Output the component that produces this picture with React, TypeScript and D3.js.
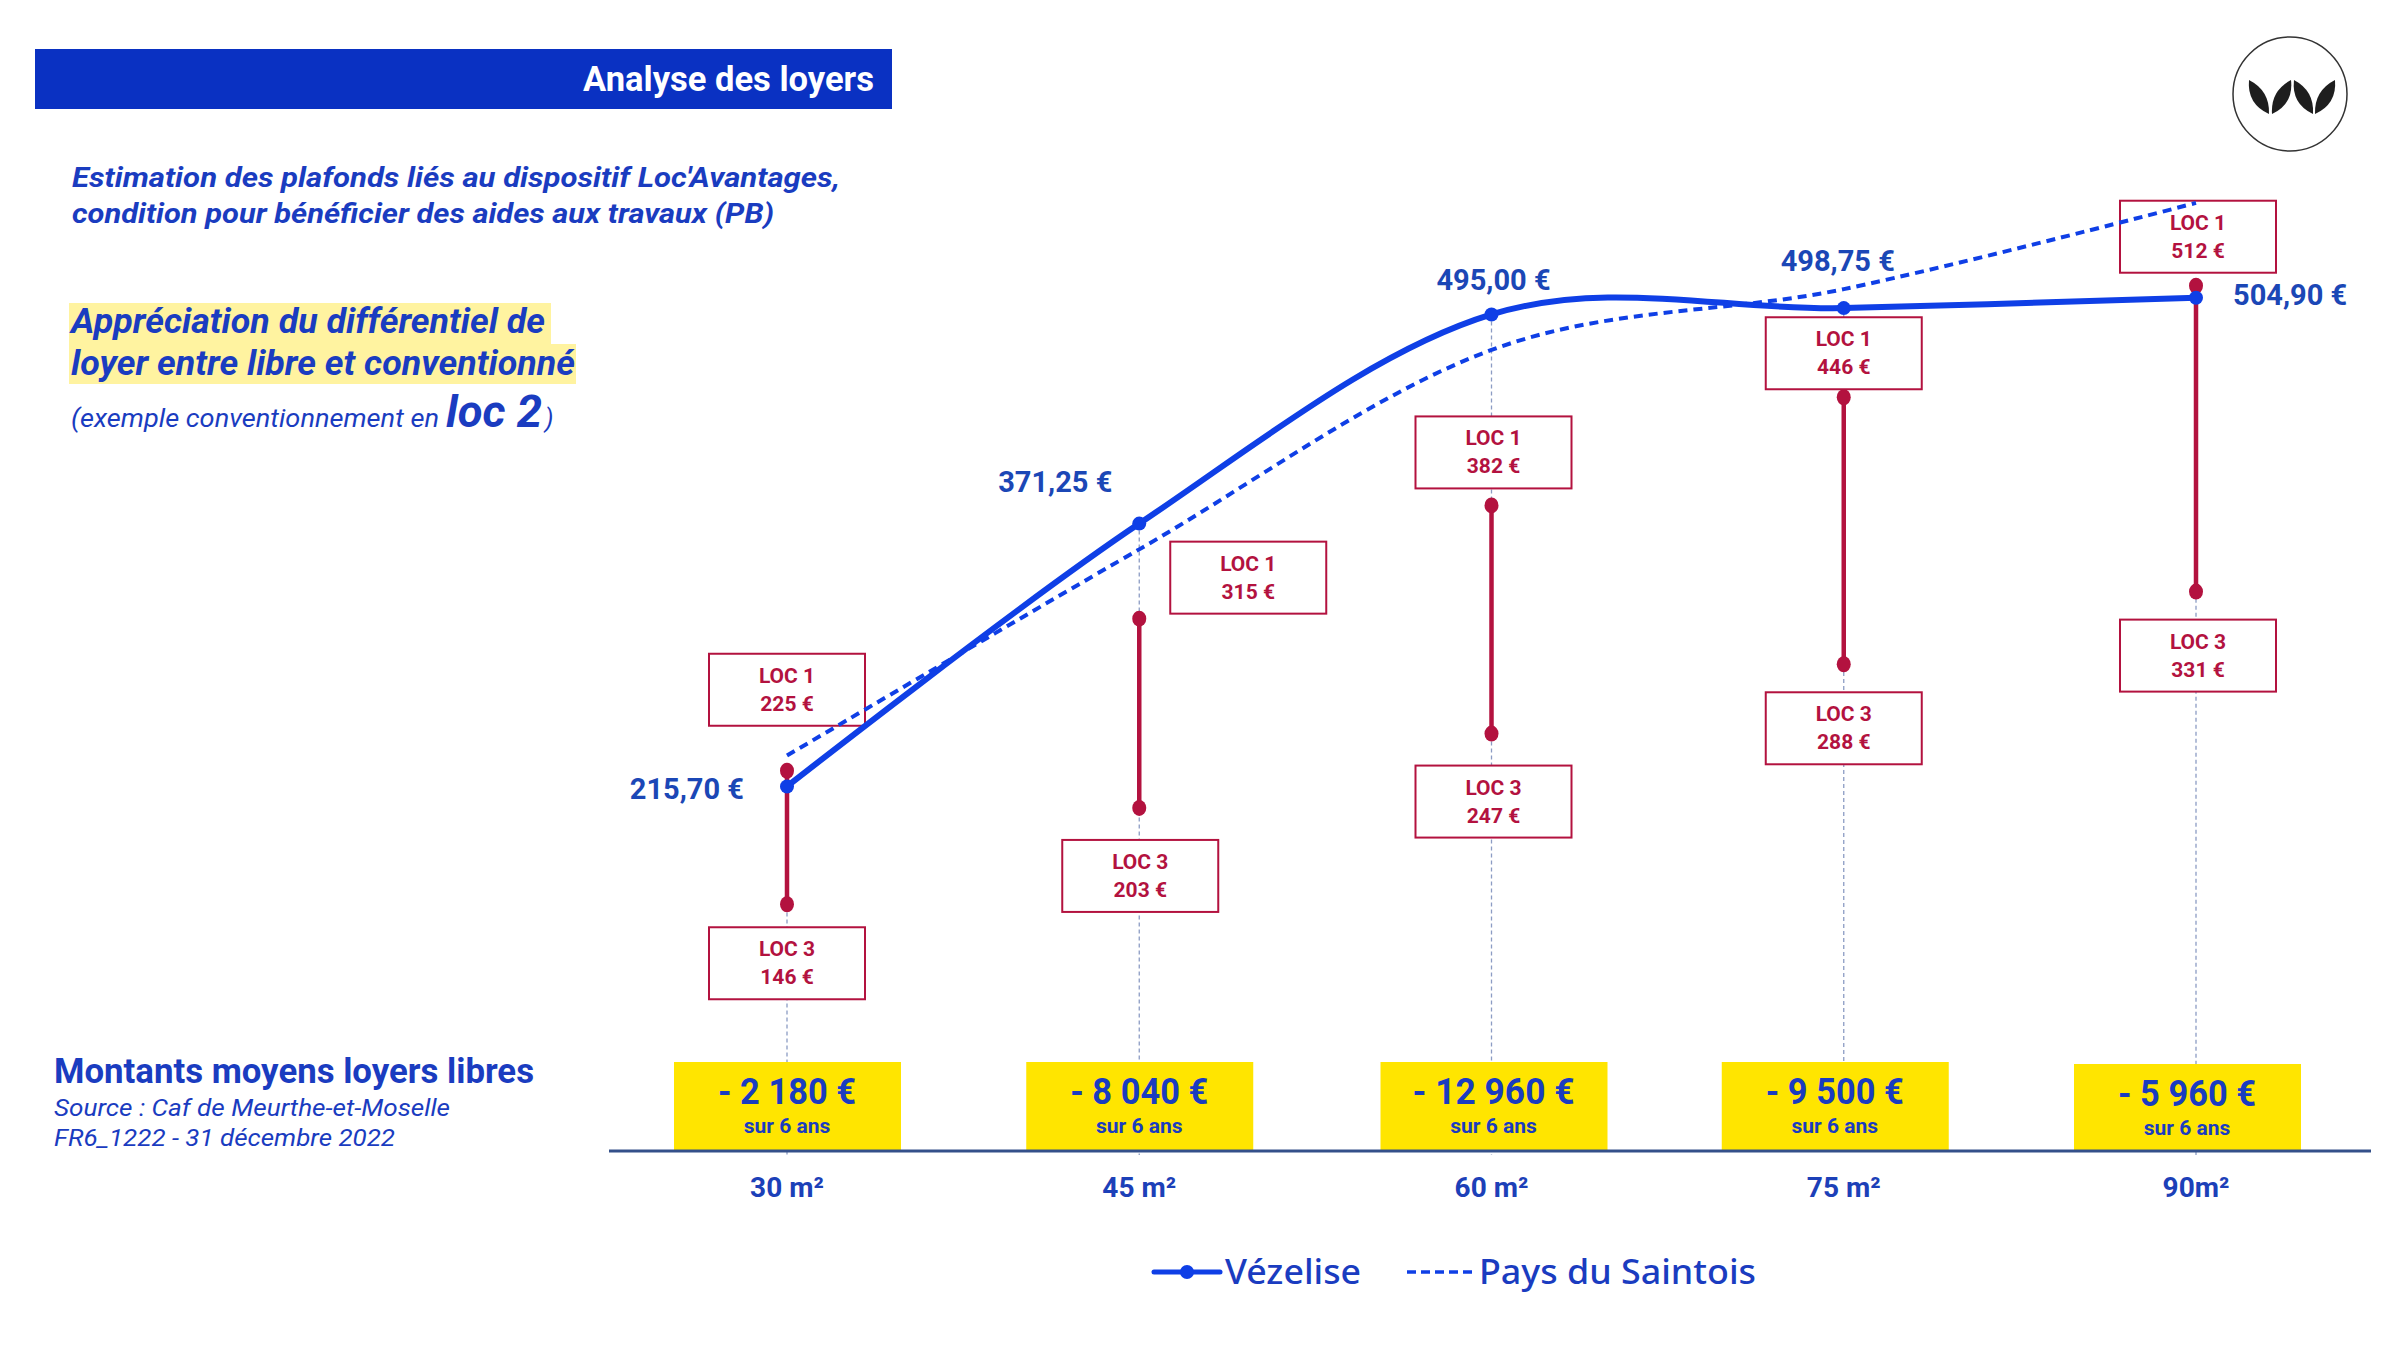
import React from "react";
import * as d3 from "d3";

// ---------- DATA ----------
const categories = ["30 m²", "45 m²", "60 m²", "75 m²", "90m²"];
const vezelise = [215.7, 371.25, 495.0, 498.75, 504.9];
const saintois = [234, 356, 474, 510, 561];
const loc1 = [225, 315, 382, 446, 512];
const loc3 = [146, 203, 247, 288, 331];
const differentiel = [-2180, -8040, -12960, -9500, -5960];
const seriesNames = ["Vézelise", "Pays du Saintois"];

// ---------- LAYOUT (annotation placement) ----------
const W = 2400;
const H = 1350;
const valueLabelPos = [
  { dx: -43, dy: 13, anchor: "end" },
  { dx: -84, dy: -32, anchor: "middle" },
  { dx: 2, dy: -24, anchor: "middle" },
  { dx: -6, dy: -37, anchor: "middle" },
  { dx: 37, dy: 7, anchor: "start" },
];
const loc1Box = [
  { dx: 0, gap: 45 },
  { dx: 109, gap: 5 },
  { dx: 2, gap: 17 },
  { dx: 0, gap: 8 },
  { dx: 2, gap: 13 },
];
const loc3Box = [
  { dx: 0, gap: 23 },
  { dx: 1, gap: 32 },
  { dx: 2, gap: 32 },
  { dx: 0, gap: 28 },
  { dx: 2, gap: 28 },
];
const diffBoxShift = [
  { dx: 0, dy: 0 },
  { dx: 0, dy: 0 },
  { dx: 2, dy: 0 },
  { dx: -9, dy: 0 },
  { dx: -9, dy: 2 },
];
const BOX_W = 156;
const BOX_H = 72;

const BLUE_LINE = "#0f3fe6";
const BLUE_TEXT = "#1a3cc0";
const BLUE_VAL = "#1b47b6";
const CRIMSON = "#b3123f";
const YELLOW = "#ffe500";

const fr = d3.formatLocale({
  decimal: ",",
  thousands: "\u00a0",
  grouping: [3],
  currency: ["", " €"],
});
const fmt2 = fr.format(",.2f");
const fmtInt = fr.format(",");

export default function App() {
  const x = d3.scalePoint<string>().domain(categories).range([787, 2196]);
  const y = d3.scaleLinear().domain([0, 600]).range([1151, 137]);

  const line = d3
    .line<number>()
    .x((_, i) => x(categories[i]) as number)
    .y((d) => y(d))
    .curve(d3.curveCardinal.tension(0));

  const font = "Roboto, 'Liberation Sans', sans-serif";

  const leaf = (x1: number, y1: number, x2: number, y2: number, flip: number) => {
    const mx = (x1 + x2) / 2;
    const my = (y1 + y2) / 2;
    const dxl = x2 - x1;
    const dyl = y2 - y1;
    const len = Math.hypot(dxl, dyl);
    const nx = (-dyl / len) * 14 * flip;
    const ny = (dxl / len) * 14 * flip;
    return `M${x1},${y1} Q${mx + nx},${my + ny} ${x2},${y2} Q${mx - nx * 0.9},${my - ny * 0.9} ${x1},${y1}Z`;
  };

  return (
    <svg
      width={W}
      height={H}
      viewBox={`0 0 ${W} ${H}`}
      style={{ position: "absolute", left: 0, top: 0, background: "#fff" }}
      fontFamily={font}
    >
      <rect x={0} y={0} width={W} height={H} fill="#fff" />

      {/* Title bar */}
      <rect x={35} y={49} width={857} height={60} fill="#0a31c2" />
      <text x={874} y={91} textAnchor="end" fill="#fff" fontSize={35} fontWeight={700} textLength={291} lengthAdjust="spacingAndGlyphs">
        Analyse des loyers
      </text>

      {/* Logo */}
      <circle cx={2290} cy={94} r={57} fill="#fff" stroke="#333" strokeWidth={1.5} />
      <path d={leaf(2249, 80, 2269, 114, 1)} fill="#1e1e1e" />
      <path d={leaf(2291, 80, 2272, 114, -1)} fill="#1e1e1e" />
      <path d={leaf(2294, 80, 2313, 114, 1)} fill="#1e1e1e" />
      <path d={leaf(2335, 80, 2315, 114, -1)} fill="#1e1e1e" />

      {/* Subtitle */}
      <text x={72} y={187} fill={BLUE_TEXT} fontSize={28} fontWeight={700} fontStyle="italic" textLength={768} lengthAdjust="spacingAndGlyphs">
        Estimation des plafonds liés au dispositif Loc'Avantages,
      </text>
      <text x={72} y={223} fill={BLUE_TEXT} fontSize={28} fontWeight={700} fontStyle="italic" textLength={702} lengthAdjust="spacingAndGlyphs">
        condition pour bénéficier des aides aux travaux (PB)
      </text>

      {/* Highlighted heading */}
      <rect x={69} y={303} width={482} height={41} fill="#fff3a0" />
      <rect x={69} y={344} width={507} height={40} fill="#fff3a0" />
      <text x={71} y={333} fill={BLUE_TEXT} fontSize={35} fontWeight={700} fontStyle="italic" textLength={474} lengthAdjust="spacingAndGlyphs">
        Appréciation du différentiel de
      </text>
      <text x={71} y={375} fill={BLUE_TEXT} fontSize={35} fontWeight={700} fontStyle="italic" textLength={504} lengthAdjust="spacingAndGlyphs">
        loyer entre libre et conventionné
      </text>
      <text x={71} y={427} fill={BLUE_TEXT} fontSize={25} fontStyle="italic" textLength={368} lengthAdjust="spacingAndGlyphs">
        (exemple conventionnement en
      </text>
      <text x={446} y={427} fill={BLUE_TEXT} fontSize={45} fontWeight={700} fontStyle="italic" textLength={96} lengthAdjust="spacingAndGlyphs">
        loc 2
      </text>
      <text x={545} y={427} fill={BLUE_TEXT} fontSize={25} fontStyle="italic">
        )
      </text>

      {/* Bottom-left source */}
      <text x={54} y={1083} fill={BLUE_TEXT} fontSize={35} fontWeight={700} textLength={480} lengthAdjust="spacingAndGlyphs">
        Montants moyens loyers libres
      </text>
      <text x={54} y={1116} fill={BLUE_TEXT} fontSize={24} fontStyle="italic" textLength={396} lengthAdjust="spacingAndGlyphs">
        Source : Caf de Meurthe-et-Moselle
      </text>
      <text x={54} y={1146} fill={BLUE_TEXT} fontSize={24} fontStyle="italic" textLength={341} lengthAdjust="spacingAndGlyphs">
        FR6_1222 - 31 décembre 2022
      </text>

      {/* Drop lines */}
      {vezelise.map((v, i) => (
        <line
          key={"drop" + i}
          x1={x(categories[i])}
          x2={x(categories[i])}
          y1={y(v)}
          y2={y(0) + 4}
          stroke="#8c9cc4"
          strokeWidth={1.3}
          strokeDasharray="4 3"
        />
      ))}

      {/* Yellow differential boxes */}
      {differentiel.map((d, i) => {
        const cx = (x(categories[i]) as number) + diffBoxShift[i].dx;
        const by = y(0) + diffBoxShift[i].dy;
        return (
          <g key={"diff" + i}>
            <rect x={cx - 113} y={by - 89} width={227} height={88} fill={YELLOW} />
            <text x={cx} y={by - 47} textAnchor="middle" fill={BLUE_TEXT} fontSize={36} fontWeight={700} textLength={d <= -10000 ? 162 : 138} lengthAdjust="spacingAndGlyphs">
              {(d < 0 ? "- " : "") + fmtInt(Math.abs(d)) + " €"}
            </text>
            <text x={cx} y={by - 18} textAnchor="middle" fill={BLUE_TEXT} fontSize={21} fontWeight={700}>
              sur 6 ans
            </text>
          </g>
        );
      })}

      {/* Axis */}
      <line x1={609} x2={2371} y1={y(0)} y2={y(0)} stroke="#34508a" strokeWidth={3} />
      {categories.map((c) => (
        <text key={c} x={x(c)} y={1197} textAnchor="middle" fill="#1c40b8" fontSize={28} fontWeight={700}>
          {c}
        </text>
      ))}

      {/* LOC boxes */}
      {loc1.map((v, i) => {
        const cx = (x(categories[i]) as number) + loc1Box[i].dx;
        const top = y(v) - loc1Box[i].gap - BOX_H;
        return (
          <g key={"l1" + i}>
            <rect x={cx - BOX_W / 2} y={top} width={BOX_W} height={BOX_H} fill="#fff" stroke={CRIMSON} strokeWidth={2} />
            <text x={cx} y={top + 29} textAnchor="middle" fill={CRIMSON} fontSize={21} fontWeight={700}>LOC 1</text>
            <text x={cx} y={top + 57} textAnchor="middle" fill={CRIMSON} fontSize={21} fontWeight={700}>{v + " €"}</text>
          </g>
        );
      })}
      {loc3.map((v, i) => {
        const cx = (x(categories[i]) as number) + loc3Box[i].dx;
        const top = y(v) + loc3Box[i].gap;
        return (
          <g key={"l3" + i}>
            <rect x={cx - BOX_W / 2} y={top} width={BOX_W} height={BOX_H} fill="#fff" stroke={CRIMSON} strokeWidth={2} />
            <text x={cx} y={top + 29} textAnchor="middle" fill={CRIMSON} fontSize={21} fontWeight={700}>LOC 3</text>
            <text x={cx} y={top + 57} textAnchor="middle" fill={CRIMSON} fontSize={21} fontWeight={700}>{v + " €"}</text>
          </g>
        );
      })}

      {/* LOC ranges */}
      {loc1.map((v, i) => {
        const cx = x(categories[i]) as number;
        return (
          <g key={"rng" + i}>
            <line x1={cx} x2={cx} y1={y(v)} y2={y(loc3[i])} stroke={CRIMSON} strokeWidth={4.5} />
            <ellipse cx={cx} cy={y(v)} rx={7} ry={8} fill={CRIMSON} />
            <ellipse cx={cx} cy={y(loc3[i])} rx={7} ry={8} fill={CRIMSON} />
          </g>
        );
      })}

      {/* Pays du Saintois */}
      <path d={line(saintois) || ""} fill="none" stroke={BLUE_LINE} strokeWidth={4} strokeDasharray="9 6" />

      {/* Vézelise */}
      <path d={line(vezelise) || ""} fill="none" stroke={BLUE_LINE} strokeWidth={6} />
      {vezelise.map((v, i) => (
        <circle key={"vp" + i} cx={x(categories[i])} cy={y(v)} r={7} fill={BLUE_LINE} />
      ))}
      {vezelise.map((v, i) => {
        const p = valueLabelPos[i];
        return (
          <text
            key={"vl" + i}
            x={(x(categories[i]) as number) + p.dx}
            y={y(v) + p.dy}
            textAnchor={p.anchor as any}
            fill={BLUE_VAL}
            fontSize={29}
            fontWeight={700}
          >
            {fmt2(v) + " €"}
          </text>
        );
      })}

      {/* Legend */}
      <line x1={1154} x2={1220} y1={1272} y2={1272} stroke={BLUE_LINE} strokeWidth={5} strokeLinecap="round" />
      <circle cx={1187} cy={1272} r={7} fill={BLUE_LINE} />
      <text x={1225} y={1284} fill={BLUE_TEXT} fontSize={34} fontWeight={500} fontFamily="'Noto Sans', sans-serif" textLength={136} lengthAdjust="spacingAndGlyphs">
        {seriesNames[0]}
      </text>
      <line x1={1407} x2={1474} y1={1272} y2={1272} stroke={BLUE_LINE} strokeWidth={3.5} strokeDasharray="9 5" />
      <text x={1479} y={1284} fill={BLUE_TEXT} fontSize={34} fontWeight={500} fontFamily="'Noto Sans', sans-serif" textLength={277} lengthAdjust="spacingAndGlyphs">
        {seriesNames[1]}
      </text>
    </svg>
  );
}
